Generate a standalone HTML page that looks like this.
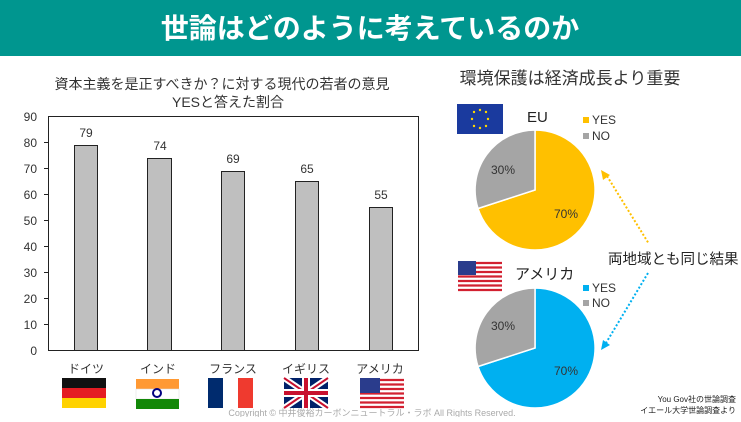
<!DOCTYPE html>
<html><head><meta charset="utf-8"><style>
body{margin:0;width:741px;height:417px;overflow:hidden;background:#fff;font-family:"Liberation Sans","Noto Sans CJK JP",sans-serif;}
</style></head><body>
<svg width="741" height="417" xmlns="http://www.w3.org/2000/svg" font-family="Liberation Sans, Noto Sans CJK JP, sans-serif">
<rect x="0" y="0" width="741" height="56" fill="#00968f"/>
<text x="370" y="38" text-anchor="middle" font-size="28" font-weight="bold" fill="#fff">世論はどのように考えているのか</text>
<text x="222" y="89" text-anchor="middle" font-size="14" fill="#333">資本主義を是正すべきか？に対する現代の若者の意見</text>
<text x="228" y="107" text-anchor="middle" font-size="14" fill="#333">YESと答えた割合</text>
<rect x="48.5" y="116.5" width="370" height="234" fill="none" stroke="#222" stroke-width="1"/>
<g font-size="12" fill="#333" text-anchor="end">
<text x="37" y="121">90</text><text x="37" y="147">80</text><text x="37" y="173">70</text><text x="37" y="199">60</text><text x="37" y="225">50</text><text x="37" y="251">40</text><text x="37" y="277">30</text><text x="37" y="303">20</text><text x="37" y="329">10</text><text x="37" y="355">0</text>
</g>
<g stroke="#222" stroke-width="1">
<line x1="44" y1="142.5" x2="48" y2="142.5"/><line x1="44" y1="168.5" x2="48" y2="168.5"/><line x1="44" y1="194.5" x2="48" y2="194.5"/><line x1="44" y1="220.5" x2="48" y2="220.5"/><line x1="44" y1="246.5" x2="48" y2="246.5"/><line x1="44" y1="272.5" x2="48" y2="272.5"/><line x1="44" y1="298.5" x2="48" y2="298.5"/><line x1="44" y1="324.5" x2="48" y2="324.5"/>
</g>
<g fill="#bfbfbf" stroke="#222" stroke-width="1">
<rect x="74.5" y="145.5" width="23" height="205"/>
<rect x="147.5" y="158.5" width="24" height="192"/>
<rect x="221.5" y="171.5" width="23" height="179"/>
<rect x="295.5" y="181.5" width="23" height="169"/>
<rect x="369.5" y="207.5" width="23" height="143"/>
</g>
<g font-size="12" fill="#333" text-anchor="middle">
<text x="86" y="137">79</text><text x="160" y="150">74</text><text x="233" y="163">69</text><text x="307" y="173">65</text><text x="381" y="199">55</text>
<text x="86" y="373">ドイツ</text><text x="158" y="373">インド</text><text x="233" y="373">フランス</text><text x="306" y="373">イギリス</text><text x="380" y="373">アメリカ</text>
</g>
<rect x="62" y="378" width="44" height="10" fill="#111"/><rect x="62" y="388" width="44" height="10" fill="#e51c23"/><rect x="62" y="398" width="44" height="10" fill="#ffd200"/>
<rect x="136" y="379" width="43" height="10" fill="#ff9933"/><rect x="136" y="389" width="43" height="10" fill="#fff" stroke="#ddd" stroke-width="0.5"/><rect x="136" y="399" width="43" height="10" fill="#138808"/><circle cx="157" cy="393" r="4" fill="none" stroke="#000080" stroke-width="2"/>
<rect x="208" y="378" width="15" height="30" fill="#002b6e"/><rect x="223" y="378" width="15" height="30" fill="#fff"/><rect x="238" y="378" width="15" height="30" fill="#ef3a2f"/>
<g><rect x="284" y="378" width="44" height="30" fill="#012169"/>
<path d="M284 378L328 408M328 378L284 408" stroke="#fff" stroke-width="6"/><path d="M284 378L328 408M328 378L284 408" stroke="#c8102e" stroke-width="2"/>
<rect x="284" y="389" width="44" height="8" fill="#fff"/><rect x="302" y="378" width="8" height="30" fill="#fff"/><rect x="284" y="391" width="44" height="4" fill="#c8102e"/><rect x="304" y="378" width="4" height="30" fill="#c8102e"/></g>
<g><rect x="360" y="378" width="44" height="30" fill="#fff"/>
<path d="M360 380h44M360 384.5h44M360 389h44M360 393.5h44M360 398h44M360 402.5h44M360 407h44" stroke="#d22030" stroke-width="2.2"/>
<rect x="360" y="378" width="20" height="15" fill="#2a3c8c"/></g>
<text x="372" y="416" text-anchor="middle" font-size="9" fill="#aaa">Copyright © 中井俊裕カーボンニュートラル・ラボ All Rights Reserved.</text>
<text x="570" y="84" text-anchor="middle" font-size="17" fill="#333">環境保護は経済成長より重要</text>
<rect x="457" y="104" width="46" height="30" fill="#1a3a9e"/>
<g fill="#ffd700"><circle cx="480" cy="110" r="1.2"/><circle cx="486" cy="112" r="1.2"/><circle cx="488" cy="119" r="1.2"/><circle cx="486" cy="126" r="1.2"/><circle cx="480" cy="128" r="1.2"/><circle cx="474" cy="126" r="1.2"/><circle cx="472" cy="119" r="1.2"/><circle cx="474" cy="112" r="1.2"/></g>
<text x="527" y="122" font-size="15" fill="#222">EU</text>
<rect x="583" y="117" width="6" height="6" fill="#ffc000"/><text x="592" y="124" font-size="12" fill="#333">YES</text>
<rect x="583" y="133" width="6" height="6" fill="#a5a5a5"/><text x="592" y="140" font-size="12" fill="#333">NO</text>
<path d="M535 190L535 130A60 60 0 1 1 478 208.5Z" fill="#ffc000" stroke="#fff" stroke-width="1.5"/>
<path d="M535 190L478 208.5A60 60 0 0 1 535 130Z" fill="#a5a5a5" stroke="#fff" stroke-width="1.5"/>
<text x="503" y="174" text-anchor="middle" font-size="12" fill="#333">30%</text>
<text x="566" y="218" text-anchor="middle" font-size="12" fill="#333">70%</text>
<g><rect x="458" y="261" width="44" height="30" fill="#fff"/>
<path d="M458 263h44M458 267.5h44M458 272h44M458 276.5h44M458 281h44M458 285.5h44M458 290h44" stroke="#d22030" stroke-width="2.2"/>
<rect x="458" y="261" width="18" height="14" fill="#2a3c8c"/></g>
<text x="515" y="279" font-size="15" fill="#222">アメリカ</text>
<rect x="583" y="285" width="6" height="6" fill="#00b0f0"/><text x="592" y="292" font-size="12" fill="#333">YES</text>
<rect x="583" y="300" width="6" height="6" fill="#a5a5a5"/><text x="592" y="307" font-size="12" fill="#333">NO</text>
<path d="M535 348L535 288A60 60 0 1 1 478 366.5Z" fill="#00b0f0" stroke="#fff" stroke-width="1.5"/>
<path d="M535 348L478 366.5A60 60 0 0 1 535 288Z" fill="#a5a5a5" stroke="#fff" stroke-width="1.5"/>
<text x="503" y="330" text-anchor="middle" font-size="12" fill="#333">30%</text>
<text x="566" y="375" text-anchor="middle" font-size="12" fill="#333">70%</text>
<line x1="607" y1="176" x2="649" y2="244" stroke="#ffc000" stroke-width="2" stroke-dasharray="2 2"/>
<path d="M601 170L610 175L603 180Z" fill="#ffc000"/>
<line x1="648" y1="273" x2="606" y2="343" stroke="#00b0f0" stroke-width="2" stroke-dasharray="2 2"/>
<path d="M601 350L603 340L610 345Z" fill="#00b0f0"/>
<text x="608" y="264" font-size="14.5" fill="#222">両地域とも同じ結果</text>
<text x="736" y="402" text-anchor="end" font-size="8" fill="#222">You Gov社の世論調査</text>
<text x="736" y="413" text-anchor="end" font-size="8" fill="#222">イエール大学世論調査より</text>
</svg>
</body></html>
